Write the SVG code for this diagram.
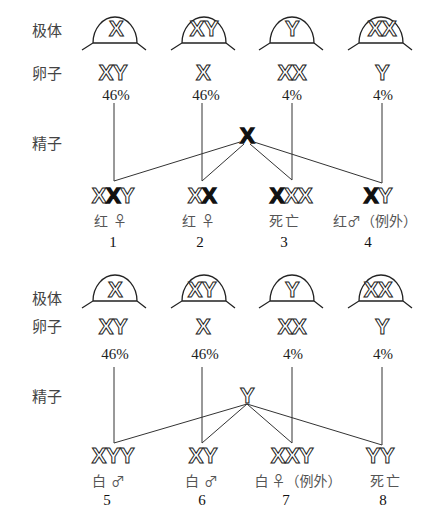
<svg xmlns="http://www.w3.org/2000/svg" width="441" height="523" viewBox="0 0 441 523">
<style>
.lab{font-family:"Noto Sans CJK SC","Noto Sans",sans-serif;font-size:15px;fill:#444}
.sub{font-family:"Noto Sans CJK SC","DejaVu Sans",sans-serif;font-size:14px;fill:#555;text-anchor:middle}
.num{font-family:"Liberation Serif",serif;font-size:15px;fill:#111;text-anchor:middle}
.pct{font-family:"Liberation Serif",serif;font-size:15px;fill:#222;text-anchor:middle}
.chr{font-family:"Liberation Sans",Arial,sans-serif;font-weight:bold;font-size:22px;text-anchor:middle;fill:#fff;stroke:#222;stroke-width:1;letter-spacing:-0.5px}
.blk{fill:#111;stroke:#111;stroke-width:1.4}
.dome{fill:none;stroke:#222;stroke-width:1.3}
.ln{fill:none;stroke:#333;stroke-width:1}
</style>
<defs>
<path id="dome" d="M-33,7 L-22,0 A22,26 0 0 1 22,0 L31,7 M-22,0 H22"/>
</defs>

<g id="row-labels-top">
<text class="lab" x="32" y="36">极体</text>
<text class="lab" x="32" y="79">卵子</text>
<text class="lab" x="32" y="149">精子</text>
</g>

<g id="polar-top">
<g id="pb1"><use href="#dome" class="dome" x="115" y="43"/><text class="chr" x="116" y="36">X</text></g>
<g id="pb2"><use href="#dome" class="dome" x="204" y="43"/><text class="chr" x="204" y="36">XY</text></g>
<g id="pb3"><use href="#dome" class="dome" x="292" y="43"/><text class="chr" x="292" y="36">Y</text></g>
<g id="pb4"><use href="#dome" class="dome" x="381" y="43"/><text class="chr" x="382" y="36">XX</text></g>
</g>

<g id="eggs-top">
<g id="egg1"><text class="chr" x="113" y="80">XY</text><text class="pct" x="116" y="100">46%</text></g>
<g id="egg2"><text class="chr" x="203" y="80">X</text><text class="pct" x="206" y="100">46%</text></g>
<g id="egg3"><text class="chr" x="292" y="80">XX</text><text class="pct" x="292" y="100">4%</text></g>
<g id="egg4"><text class="chr" x="382" y="80">Y</text><text class="pct" x="383" y="100">4%</text></g>
</g>

<g id="sperm-top"><text class="chr blk" x="247" y="143" font-size="23">X</text></g>

<g id="connectors-top">
<path class="ln" d="M114,103 V181 M202,103 V181 M292,103 V180 M382,103 V183"/>
<path class="ln" d="M240,142 L114,181 M244,144 L202,181 M250,144 L292,180 M254,142 L382,183"/>
</g>

<g id="offspring-top">
<g id="o1"><text class="chr" x="113" y="203">X<tspan class="blk">X</tspan>Y</text><text class="sub" x="113" y="226" letter-spacing="5">红♀</text><text class="num" x="113" y="247">1</text></g>
<g id="o2"><text class="chr" x="202" y="203">X<tspan class="blk">X</tspan></text><text class="sub" x="201" y="226" letter-spacing="5">红♀</text><text class="num" x="200" y="247">2</text></g>
<g id="o3"><text class="chr" x="291" y="203"><tspan class="blk">X</tspan>XX</text><text class="sub" x="285" y="226" letter-spacing="2">死亡</text><text class="num" x="284" y="247">3</text></g>
<g id="o4"><text class="chr" x="378" y="203"><tspan class="blk">X</tspan>Y</text><text class="sub" x="375" y="226">红♂（例外）</text><text class="num" x="368" y="247">4</text></g>
</g>

<g id="row-labels-bottom">
<text class="lab" x="32" y="304">极体</text>
<text class="lab" x="32" y="332">卵子</text>
<text class="lab" x="32" y="402">精子</text>
</g>

<g id="polar-bottom">
<g id="pb5"><use href="#dome" class="dome" x="115" y="301"/><text class="chr" x="115" y="297">X</text></g>
<g id="pb6"><use href="#dome" class="dome" x="204" y="301"/><text class="chr" x="202" y="297">XY</text></g>
<g id="pb7"><use href="#dome" class="dome" x="292" y="301"/><text class="chr" x="292" y="297">Y</text></g>
<g id="pb8"><use href="#dome" class="dome" x="381" y="301"/><text class="chr" x="378" y="297">XX</text></g>
</g>

<g id="eggs-bottom">
<g id="egg5"><text class="chr" x="113" y="334">XY</text><text class="pct" x="115" y="359">46%</text></g>
<g id="egg6"><text class="chr" x="203" y="334">X</text><text class="pct" x="205" y="359">46%</text></g>
<g id="egg7"><text class="chr" x="292" y="334">XX</text><text class="pct" x="293" y="359">4%</text></g>
<g id="egg8"><text class="chr" x="382" y="334">Y</text><text class="pct" x="383" y="359">4%</text></g>
</g>

<g id="sperm-bottom"><text class="chr" x="247" y="403" font-size="25">Y</text></g>

<g id="connectors-bottom">
<path class="ln" d="M114,367 V443 M202,367 V443 M292,367 V443 M382,367 V445"/>
<path class="ln" d="M247,404 L114,443 M247,404 L202,443 M247,404 L292,443 M247,404 L382,445"/>
</g>

<g id="offspring-bottom">
<g id="o5"><text class="chr" x="113" y="463">XYY</text><text class="sub" x="111" y="486" letter-spacing="5">白♂</text><text class="num" x="107" y="505">5</text></g>
<g id="o6"><text class="chr" x="203" y="463">XY</text><text class="sub" x="204" y="486" letter-spacing="5">白♂</text><text class="num" x="202" y="505">6</text></g>
<g id="o7"><text class="chr" x="292" y="463">XXY</text><text class="sub" x="298" y="486">白 ♀（例外）</text><text class="num" x="286" y="505">7</text></g>
<g id="o8"><text class="chr" x="380" y="463">YY</text><text class="sub" x="386" y="486" letter-spacing="2">死亡</text><text class="num" x="383" y="505">8</text></g>
</g>
</svg>
